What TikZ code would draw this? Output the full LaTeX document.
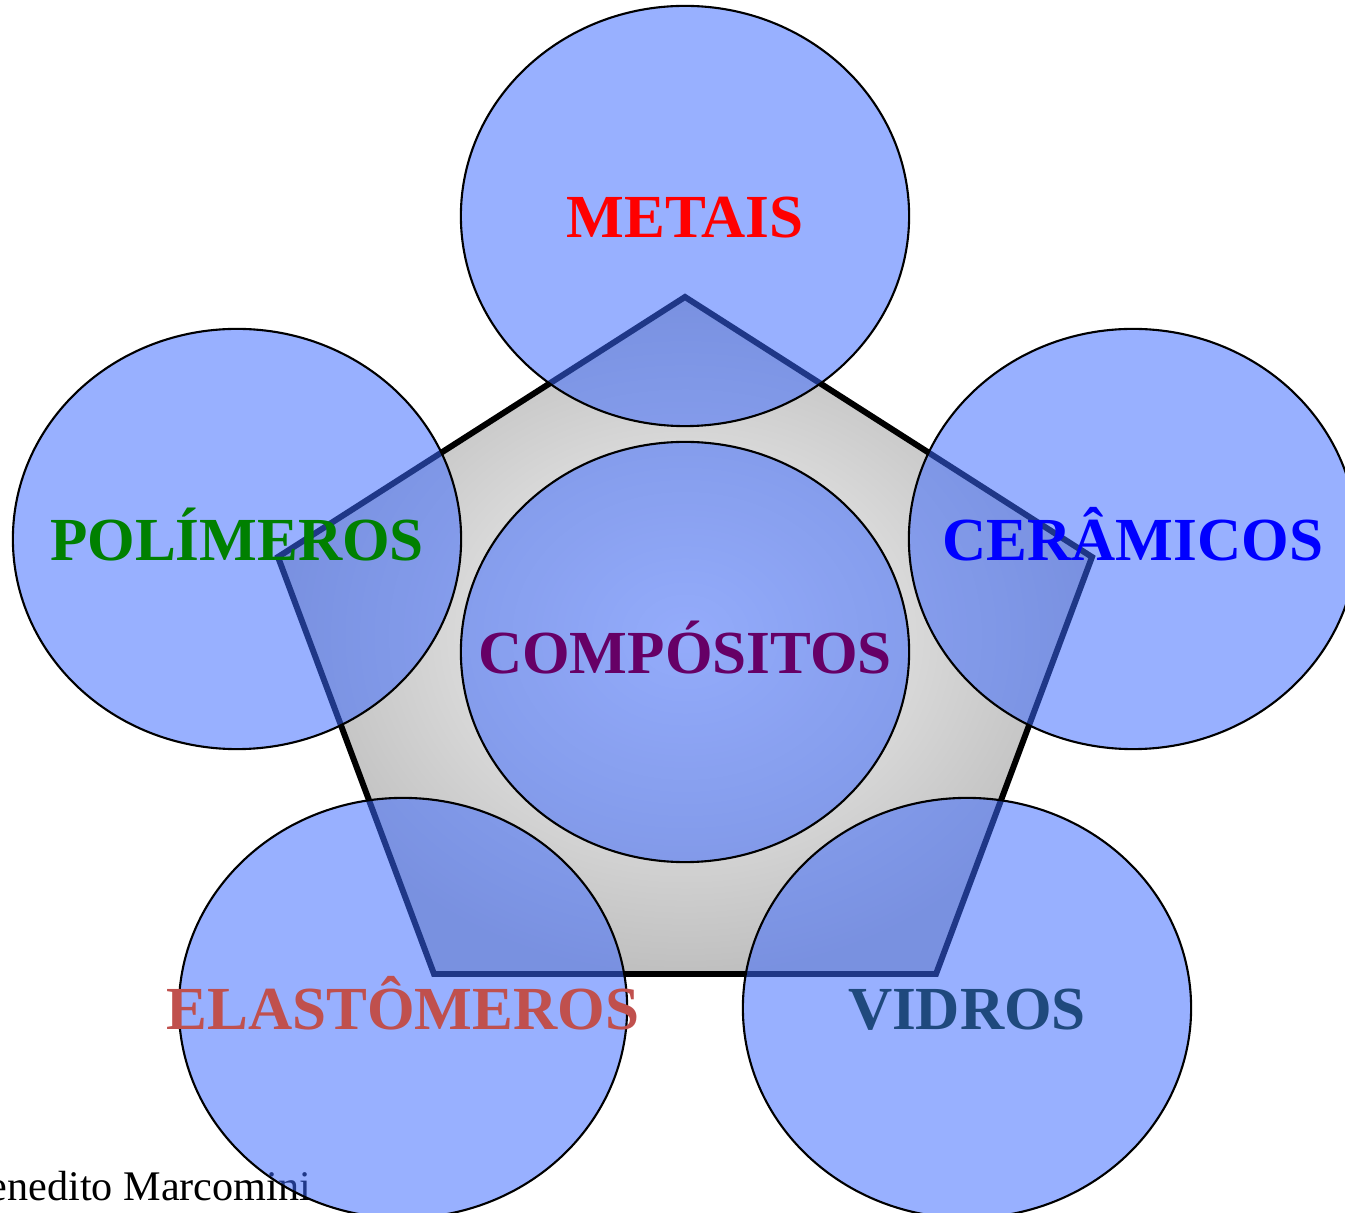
\documentclass[tikz,border=0pt]{standalone}
\usepackage{fontspec}
\setmainfont{Liberation Serif}
\usetikzlibrary{shapes.geometric}
\definecolor{blobblue}{RGB}{60,105,255}
\definecolor{elastred}{RGB}{192,80,77}
\definecolor{vidrosblue}{RGB}{31,73,125}
\definecolor{composroxo}{RGB}{102,0,102}
\definecolor{polgreen}{RGB}{0,128,0}
\begin{document}
\begin{tikzpicture}[x=0.01cm,y=-0.01cm,
  blob/.style={ellipse,draw=black,line width=0.6pt,fill=blobblue,fill opacity=0.53,
    minimum width=4.48cm,minimum height=4.2cm,inner sep=0pt},
  lbl/.style={font=\fontsize{17.4}{20}\selectfont\bfseries,text height=0.43cm,text depth=0pt,inner sep=0pt}]
\useasboundingbox (0,0) rectangle (1345,1213);
% base pentagon
\draw[line width=1.7pt,shading=radial,inner color=gray!6,outer color=gray!50]
  (685,297) -- (1092,557) -- (936,974) -- (434,974) -- (278,557) -- cycle;
\node[anchor=base west,inner sep=0pt,font=\fontsize{12}{14}\selectfont] (autor) at (-40,1200) {Benedito Marcomini};
% the material families
\node[blob] (metais) at (685,216) {};
\node[blob] (polimeros) at (237,539) {};
\node[blob] (ceramicos) at (1133,539) {};
\node[blob] (elastomeros) at (403,1008) {};
\node[blob] (vidros) at (967,1008) {};
\node[blob] (compositos) at (685,652) {};
% labels
\node[lbl,text=red] (metais-t) at (metais) {METAIS};
\node[lbl,text=polgreen] (polimeros-t) at (polimeros) {POLÍMEROS};
\node[lbl,text=blue] (ceramicos-t) at (ceramicos) {CERÂMICOS};
\node[lbl,text=elastred] (elastomeros-t) at (elastomeros) {ELASTÔMEROS};
\node[lbl,text=vidrosblue] (vidros-t) at (vidros) {VIDROS};
\node[lbl,text=composroxo] (compositos-t) at (compositos) {COMPÓSITOS};
\end{tikzpicture}
\end{document}
